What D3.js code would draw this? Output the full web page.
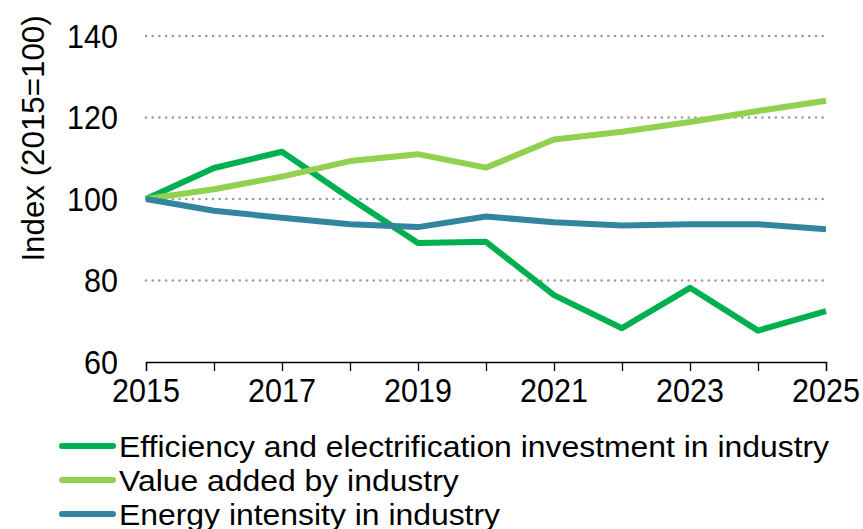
<!DOCTYPE html>
<html><head><meta charset="utf-8">
<script src="https://cdn.jsdelivr.net/npm/d3@7"></script>
<style>
html,body{margin:0;padding:0;background:#fff;}
svg{display:block;font-family:"Liberation Sans",Arial,sans-serif;}
</style></head>
<body>
<svg id="chart" width="863" height="529"></svg>
<script>
const years = [2015,2016,2017,2018,2019,2020,2021,2022,2023,2024,2025];
const efficiencyInvestment = [100,107.6,111.6,100.2,89.2,89.5,76.4,68.3,78.2,67.7,72.5];
const valueAdded = [100,102.4,105.5,109.3,111.0,107.7,114.6,116.5,118.9,121.6,124.1];
const energyIntensity = [100,97.1,95.4,93.8,93.1,95.7,94.3,93.5,93.8,93.8,92.6];
const seriesNames = ["Efficiency and electrification investment in industry","Value added by industry","Energy intensity in industry"];
const seriesColors = ["#00B050","#92D050","#31859C"];
const yTicks = [60,80,100,120,140];
const xLabelYears = [2015,2017,2019,2021,2023,2025];
const yAxisTitle = "Index (2015=100)";

const svg = d3.select("#chart");
const x = d3.scaleLinear().domain([2015,2025]).range([146,826]);
const y = d3.scaleLinear().domain([60,140]).range([362,36]);

// gridlines
svg.append("g").selectAll("line").data(yTicks.filter(d=>d>60)).join("line")
  .attr("x1",x(2015)).attr("x2",x(2025)).attr("y1",d=>y(d)).attr("y2",d=>y(d))
  .attr("stroke","#9a9a9a").attr("stroke-width",2.6).attr("stroke-dasharray","0,6.7")
  .attr("stroke-linecap","round");

// y tick labels
svg.append("g").selectAll("text").data(yTicks).join("text")
  .attr("transform",d=>`translate(118,${y(d)+11.5}) scale(1,1.07)`)
  .attr("text-anchor","end")
  .attr("font-size",30.5).attr("fill","#000").text(d=>d);

// y title
svg.append("text").attr("transform","translate(43.5,138.5) rotate(-90)")
  .attr("text-anchor","middle").attr("font-size",31.3).attr("fill","#000").text(yAxisTitle);

// x axis
const xAxis = d3.axisBottom(x).tickValues(years).tickSize(9).tickFormat("");
const gx = svg.append("g").attr("transform",`translate(0,${y(60)})`).call(xAxis);
gx.select(".domain").attr("stroke","#000").attr("stroke-width",1.3);
gx.selectAll(".tick line").attr("stroke","#000").attr("stroke-width",1.3);
svg.append("g").selectAll("text").data(xLabelYears).join("text")
  .attr("transform",d=>`translate(${x(d)},402) scale(1,1.08)`).attr("text-anchor","middle")
  .attr("font-size",30.5).attr("fill","#000").text(d=>d);

// lines
const line = d3.line().x((d,i)=>x(years[i])).y(d=>y(d));
const allSeries = [efficiencyInvestment,valueAdded,energyIntensity];
allSeries.forEach((s,i)=>{
  svg.append("path").attr("d",line(s)).attr("fill","none")
    .attr("stroke",seriesColors[i]).attr("stroke-width",6)
    .attr("stroke-linejoin","round").attr("stroke-linecap","butt");
});

// legend
const legY = [446,480,514];
seriesNames.forEach((n,i)=>{
  svg.append("line").attr("x1",62).attr("x2",113).attr("y1",legY[i]).attr("y2",legY[i])
    .attr("stroke",seriesColors[i]).attr("stroke-width",6).attr("stroke-linecap","round");
  svg.append("text").attr("transform",`translate(119,${legY[i]+10.5}) scale(1.1,1)`)
    .attr("font-size",29).attr("fill","#000").text(n);
});
</script>
</body></html>
